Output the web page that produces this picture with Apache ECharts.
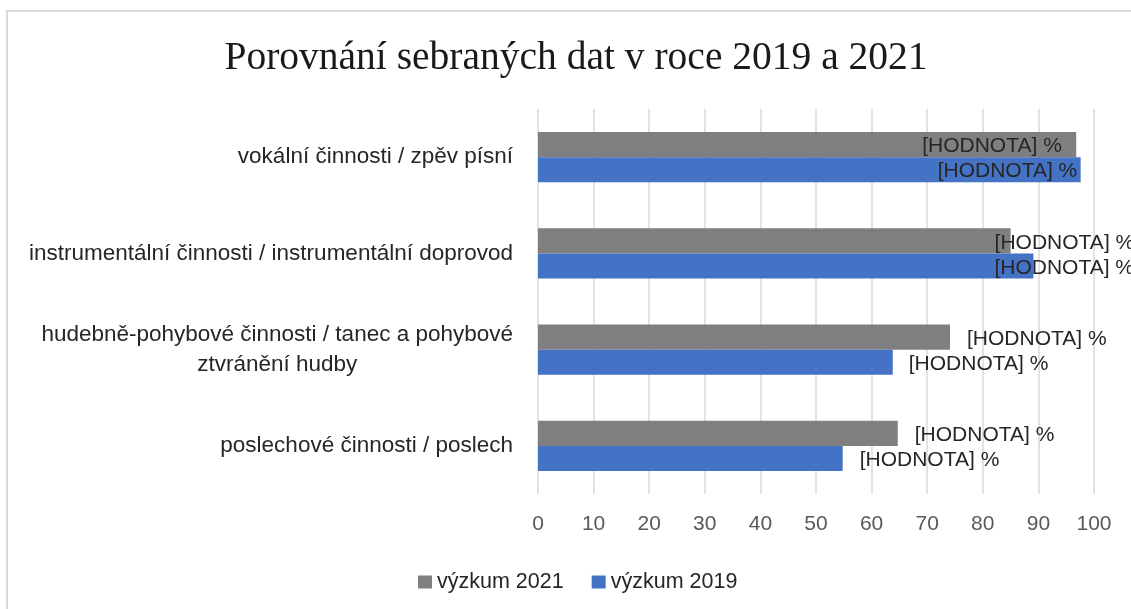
<!DOCTYPE html>
<html>
<head>
<meta charset="utf-8">
<script src="https://cdn.jsdelivr.net/npm/echarts@6/dist/echarts.min.js"></script>
<style>
  html, body { margin: 0; padding: 0; background: #fff; }
  #frame { position: absolute; left: 6px; top: 10px; width: 1200px; height: 700px;
           border-left: 2px solid #d9d9d9; border-top: 2px solid #d9d9d9; }
  #chart { position: absolute; left: 0; top: 0; width: 1131px; height: 609px; }
</style>
</head>
<body>
<div id="frame"></div>
<div id="chart"></div>
<script>
// kategorie odspodu nahoru (osa y)
const categories = [
  'poslechové činnosti / poslech',
  'hudebně-pohybové činnosti / tanec a pohybové\nztvránění hudby',
  'instrumentální činnosti / instrumentální doprovod',
  'vokální činnosti / zpěv písní'
]
const vyzkum2021 = [64.7, 74.1, 85.0, 96.8]
const vyzkum2019 = [54.8, 63.8, 89.1, 97.6]
const xTicks = [0, 10, 20, 30, 40, 50, 60, 70, 80, 90, 100]

// posun popisků (jako v Excelu, kde se popisky posunuly ručně)
const labelShift2021 = [17, 17, -16, -154]
const labelShift2019 = [17, 16, -39, -143]

const labelFont = 'Liberation Sans'

function buildData(values, shifts) {
  return values.map((v, i) => ({
    value: v,
    label: { offset: [shifts[i], 2] }
  }))
}

const chart = echarts.init(document.getElementById('chart'))

const barLabel = {
  show: true,
  position: 'right',
  distance: 0,
  formatter: '[HODNOTA] %',
  fontFamily: labelFont,
  fontSize: 21,
  color: '#262626'
}

const options = {
  backgroundColor: 'transparent',
  animation: false,
  title: {
    text: 'Porovnání sebraných dat v roce 2019 a 2021',
    left: 571,
    top: 34,
    textAlign: 'center',
    textStyle: {
      fontFamily: 'Liberation Serif',
      fontWeight: 'normal',
      fontSize: 39.5,
      color: '#1a1a1a'
    }
  },
  legend: {
    data: ['výzkum 2021', 'výzkum 2019'],
    left: 413,
    top: 566,
    icon: 'rect',
    itemWidth: 14,
    itemHeight: 13,
    itemGap: 28,
    textStyle: {
      fontFamily: labelFont,
      fontSize: 21.5,
      color: '#262626'
    }
  },
  grid: {
    left: 538,
    right: 37,
    top: 109,
    bottom: 115,
    containLabel: false
  },
  xAxis: {
    type: 'value',
    min: xTicks[0],
    max: xTicks[xTicks.length - 1],
    interval: xTicks[1] - xTicks[0],
    axisLine: { show: false },
    axisTick: { show: false },
    axisLabel: {
      margin: 20,
      fontFamily: labelFont,
      fontSize: 21,
      color: '#595959'
    },
    splitLine: {
      lineStyle: { color: '#d9d9d9', width: 1.5 }
    }
  },
  yAxis: {
    type: 'category',
    data: categories,
    axisLine: { show: false },
    axisTick: { show: false },
    axisLabel: {
      margin: 25,
      formatter: v => v.split('\n').map(s => '{c|' + s + '}').join('\n'),
      rich: {
        c: {
          align: 'center',
          fontFamily: labelFont,
          fontSize: 22.5,
          lineHeight: 30,
          color: '#262626'
        }
      }
    }
  },
  series: [
    {
      name: 'výzkum 2021',
      type: 'bar',
      barGap: '0%',
      barCategoryGap: '48%',
      itemStyle: { color: '#7f7f7f' },
      label: barLabel,
      data: buildData(vyzkum2021, labelShift2021)
    },
    {
      name: 'výzkum 2019',
      type: 'bar',
      barGap: '0%',
      barCategoryGap: '48%',
      itemStyle: { color: '#4472c4' },
      label: barLabel,
      data: buildData(vyzkum2019, labelShift2019)
    }
  ]
}

chart.setOption(options)
</script>
</body>
</html>
